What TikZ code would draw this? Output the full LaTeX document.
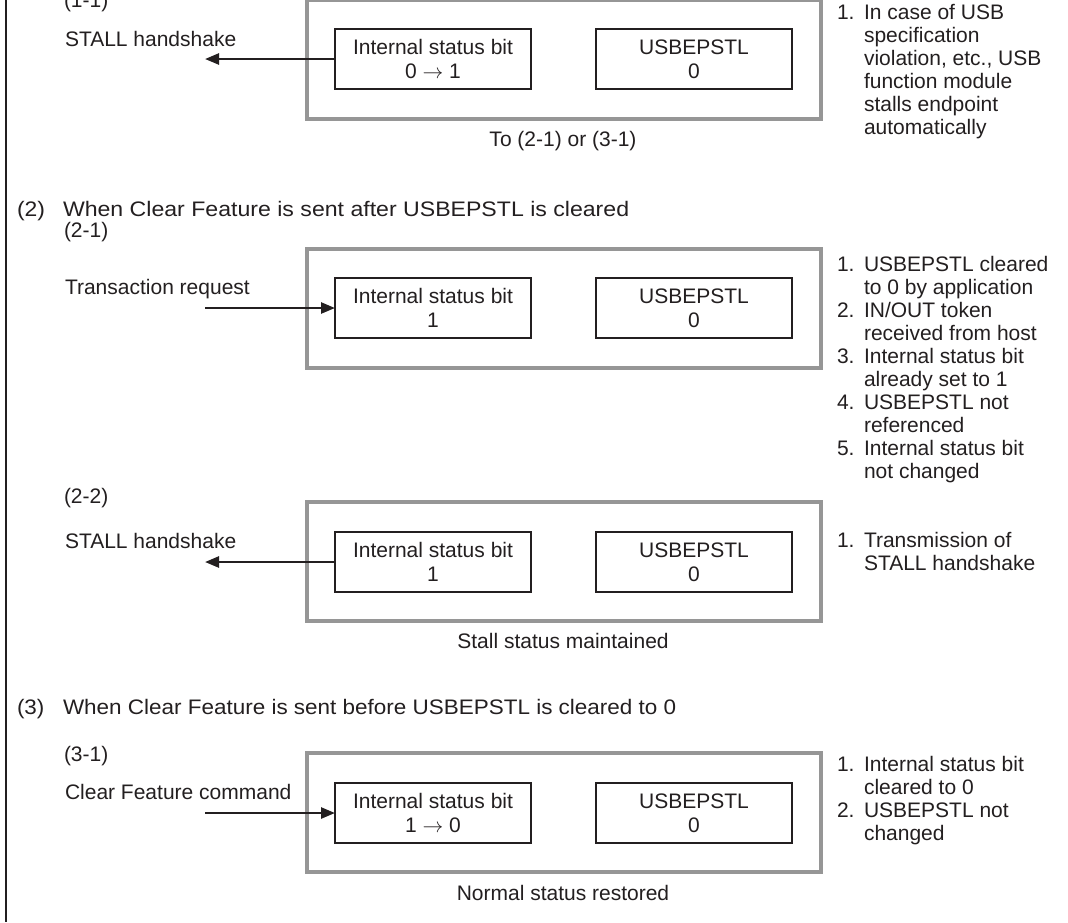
\documentclass[tikz,border=0pt]{standalone}
\usepackage{fontspec}
\usepackage{graphicx}
\setmainfont{Liberation Sans}
\usetikzlibrary{arrows.meta}
\definecolor{boxgray}{RGB}{150,150,150}
\definecolor{ink}{RGB}{35,31,32}
\newcommand\fs{\fontsize{21}{24}\selectfont}
\newcommand\wide[2]{\scalebox{#1}[1]{#2}}
\newcommand\noteitem[4]{%
  \node[txt] (#1) at (837,#2) {#3.};
  \foreach \l [count=\i from 0] in {#4} {\node[txt] (#1-\i) at (864,{#2+23*\i}) {\l};}
}
\begin{document}
\begin{tikzpicture}[x=1pt,y=-1pt,
  txt/.style={font=\fs, inner sep=0pt, outer sep=0pt, text=ink, anchor=base west},
  captxt/.style={font=\fs, inner sep=0pt, outer sep=0pt, text=ink, anchor=base},
  outerbox/.style={draw=boxgray, line width=4pt, minimum width=514pt, minimum height=119pt, inner sep=0pt, outer sep=0pt},
  regbox/.style={draw=ink, line width=1.1pt, minimum width=196pt, minimum height=60pt, font=\fs, align=center, inner sep=0pt, outer sep=0pt, text=ink},
  sig/.style={draw=ink, line width=2.5pt, -{Triangle[length=14pt,width=11pt]}},
  ]
\useasboundingbox (0,0) rectangle (1068,922);
\fill[white] (0,0) rectangle (1068,922);
% left frame line
\coordinate (ftop) at (6,0);
\coordinate (fbot) at (6,922);
\draw[ink, line width=2.5pt] (ftop) -- (fbot);

% ---------- (1-1)
\node[txt] (l11) at (64,7) {(1-1)};
\node[txt] (t11) at (65,46) {STALL handshake};
\node[outerbox] (o11) at (564,59) {};
\node[regbox] (a11) at (433,59) {Internal status bit\\0 $\rightarrow$ 1};
\node[regbox] (b11) at (694,59) {USBEPSTL\\0};
\coordinate (e11) at (205,59);
\draw[sig] (a11.west) -- (e11);
\node[captxt] (c11) at (563,146) {To (2-1) or (3-1)};
\noteitem{n11}{19}{1}{In case of USB, specification, {violation, etc., USB}, function module, stalls endpoint, automatically}

% ---------- (2)
\node[txt] (h2n) at (17,216) {\wide{1.09}{(2)}};
\node[txt] (h2) at (63,216) {\wide{1.10}{When Clear Feature is sent after USBEPSTL is cleared}};
\node[txt] (l21) at (64,237) {(2-1)};
\node[txt] (t21) at (65,294) {Transaction request};
\node[outerbox] (o21) at (564,308) {};
\node[regbox] (a21) at (433,308) {Internal status bit\\1};
\node[regbox] (b21) at (694,308) {USBEPSTL\\0};
\coordinate (s21) at (205,308);
\draw[sig] (s21) -- (a21.west);
\noteitem{n21a}{271}{1}{USBEPSTL cleared, to 0 by application}
\noteitem{n21b}{317}{2}{IN/OUT token, received from host}
\noteitem{n21c}{363}{3}{Internal status bit, already set to 1}
\noteitem{n21d}{409}{4}{USBEPSTL not, referenced}
\noteitem{n21e}{455}{5}{Internal status bit, not changed}

% ---------- (2-2)
\node[txt] (l22) at (64,503) {(2-2)};
\node[txt] (t22) at (65,548) {STALL handshake};
\node[outerbox] (o22) at (564,561) {};
\node[regbox] (a22) at (433,562) {Internal status bit\\1};
\node[regbox] (b22) at (694,562) {USBEPSTL\\0};
\coordinate (e22) at (205,562);
\draw[sig] (a22.west) -- (e22);
\node[captxt] (c22) at (563,648) {Stall status maintained};
\noteitem{n22}{547}{1}{Transmission of, STALL handshake}

% ---------- (3)
\node[txt] (h3n) at (17,714) {\wide{1.07}{(3)}};
\node[txt] (h3) at (63,714) {\wide{1.07}{When Clear Feature is sent before USBEPSTL is cleared to 0}};
\node[txt] (l31) at (64,761) {(3-1)};
\node[txt] (t31) at (65,799) {Clear Feature command};
\node[outerbox] (o31) at (564,812) {};
\node[regbox] (a31) at (433,813) {Internal status bit\\1 $\rightarrow$ 0};
\node[regbox] (b31) at (694,813) {USBEPSTL\\0};
\coordinate (s31) at (205,813);
\draw[sig] (s31) -- (a31.west);
\node[captxt] (c31) at (563,900) {Normal status restored};
\noteitem{n31a}{771}{1}{Internal status bit, cleared to 0}
\noteitem{n31b}{817}{2}{USBEPSTL not, changed}
\end{tikzpicture}
\end{document}
